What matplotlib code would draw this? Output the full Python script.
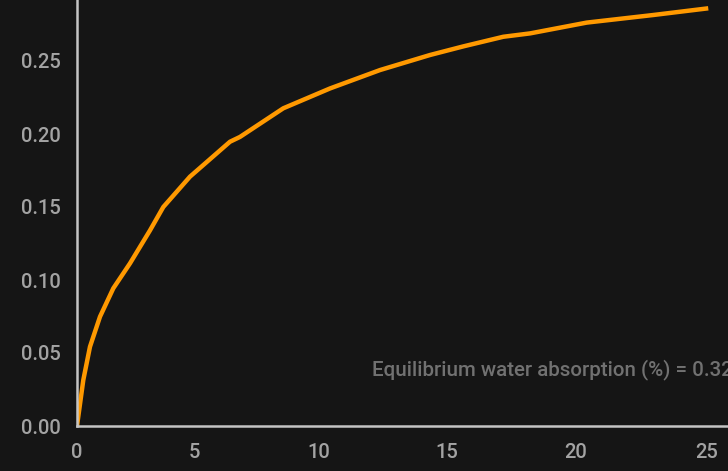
import matplotlib
matplotlib.use("Agg")
import matplotlib.pyplot as plt
import numpy as np

plt.rcParams['font.family'] = ['Roboto', 'DejaVu Sans']

time_x = [0, 0.197, 0.305, 0.609, 1.053, 1.629, 2.340, 3.179, 3.731, 4.829,
          6.453, 6.856, 8.589, 10.443, 12.410, 14.362, 15.655, 17.205, 18.234,
          20.414, 22.956, 25.05]
absorption = [0, 0.020, 0.0315, 0.0543, 0.0749, 0.0943, 0.1114, 0.134, 0.150,
              0.1708, 0.1947, 0.198, 0.2176, 0.2312, 0.2438, 0.2541, 0.260,
              0.2666, 0.2689, 0.2763, 0.2815, 0.2861]
x_ticks = [0, 5, 10, 15, 20, 25]
y_ticks = [0.00, 0.05, 0.10, 0.15, 0.20, 0.25]
note = "Equilibrium water absorption (%) = 0.32"

# the reference x axis is slightly non-linear (power scale)
EXP = 1.045
def fwd(v):
    v = np.asarray(v, dtype=float)
    return np.sign(v) * np.abs(v) ** EXP
def inv(v):
    v = np.asarray(v, dtype=float)
    return np.sign(v) * np.abs(v) ** (1 / EXP)

W, H = 728, 471
bg = '#151515'
fig = plt.figure(figsize=(W / 100, H / 100), dpi=100, facecolor=bg)
ax = fig.add_axes([77 / W, 45 / H, 1.0, 1.0])
ax.set_facecolor(bg)
ax.set_xscale('function', functions=(fwd, inv))
px_per_u = 21.8
ax.set_xlim(0, float(inv(W / px_per_u)))
y_per_px = 0.25 / (426 - 61)
ax.set_ylim(0, H * y_per_px)

ax.plot(time_x, absorption, color='#ff9900', lw=3.2, solid_capstyle='butt',
        solid_joinstyle='round')

ax.set_xticks(x_ticks)
ax.set_xticklabels([str(v) for v in x_ticks])
ax.set_yticks(y_ticks)
ax.set_yticklabels([f"{v:.2f}" for v in y_ticks])
ax.xaxis.set_minor_locator(matplotlib.ticker.NullLocator())
ax.tick_params(length=0, pad=12, labelsize=14.5, colors='#a3a3a3')
for lab in ax.get_xticklabels() + ax.get_yticklabels():
    lab.set_fontweight('medium')
for s in ['top', 'right']:
    ax.spines[s].set_visible(False)
for s in ['left', 'bottom']:
    ax.spines[s].set_color('#c4c4c4')
    ax.spines[s].set_linewidth(1.8)

ax.text(12.1, 0.039, note, color='#717171', fontsize=14.8, fontweight='medium',
        ha='left', va='center')

fig.savefig('out.png', dpi=100, facecolor=bg)
